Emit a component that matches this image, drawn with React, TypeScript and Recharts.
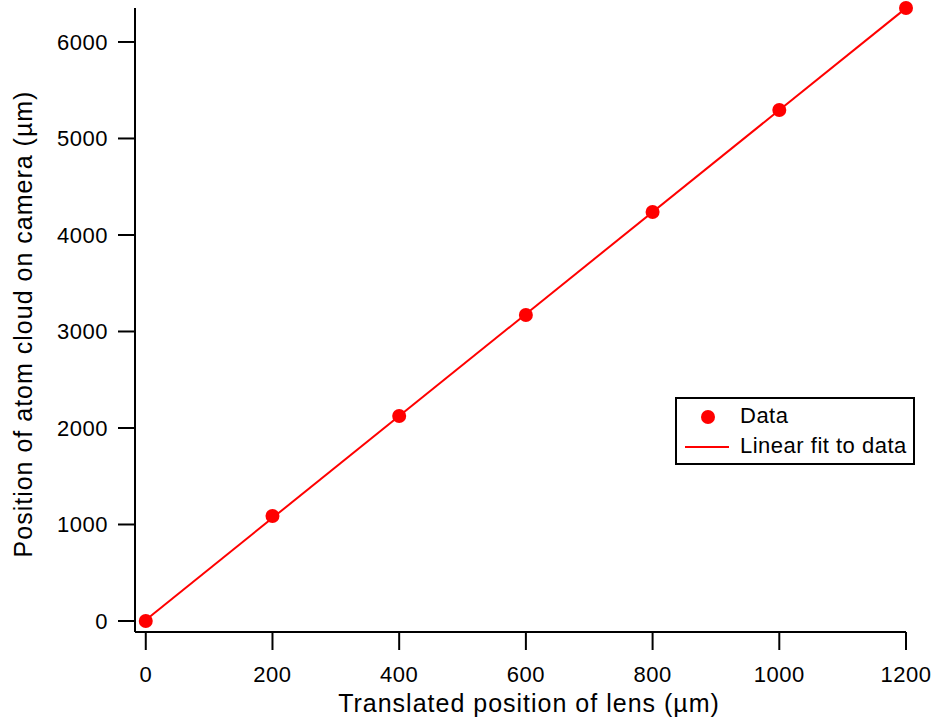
import React from 'react';
import { ComposedChart, Scatter, Line, XAxis, YAxis } from 'recharts';

// measured lens translation vs. cloud position on the camera
const lensPos = [0, 200, 400, 600, 800, 1000, 1200];
const cloudPos = [0, 1088, 2124, 3171, 4238, 5295, 6352];

// linear fit end points
const fitX = [0, 1200];
const fitY = [11, 6351];

const xTicks = [0, 200, 400, 600, 800, 1000, 1200];
const yTicks = [0, 1000, 2000, 3000, 4000, 5000, 6000];

const points = lensPos.map((x, i) => ({ x, y: cloudPos[i] }));
const fit = fitX.map((x, i) => ({ x, y: fitY[i] }));

const RED = '#ff0000';
const FONT = '"Liberation Sans", Arial, sans-serif';

const Dot = (props: any) => <circle cx={props.cx} cy={props.cy} r={7} fill={RED} />;

const XTitle = () => (
  <text x={529} y={712} textAnchor="middle" fontSize={25} letterSpacing={1} fill="#000">
    Translated position of lens (µm)
  </text>
);

const YTitle = () => (
  <text
    x={0}
    y={0}
    transform="translate(32, 324) rotate(-90)"
    textAnchor="middle"
    fontSize={25}
    letterSpacing={1}
    fill="#000"
  >
    Position of atom cloud on camera (µm)
  </text>
);

const LegendBox = () => (
  <div
    style={{
      position: 'absolute',
      left: 675,
      top: 397,
      width: 236,
      height: 64,
      border: '2px solid #000',
      background: '#fff',
      fontSize: 22,
      letterSpacing: 0.5,
      color: '#000',
    }}
  >
    <svg width={60} height={64} style={{ position: 'absolute', left: 0, top: 0 }}>
      <circle cx={31} cy={18} r={7} fill={RED} />
      <line x1={8} x2={52} y1={48} y2={48} stroke={RED} strokeWidth={2} />
    </svg>
    <div style={{ position: 'absolute', left: 63, top: 4 }}>Data</div>
    <div style={{ position: 'absolute', left: 63, top: 34 }}>Linear fit to data</div>
  </div>
);

export default function App() {
  return (
    <div style={{ position: 'absolute', left: 0, top: 0, width: 937, height: 720, fontFamily: FONT, background: '#fff' }}>
      <ComposedChart width={937} height={720} margin={{ top: 8, right: 31, bottom: 0, left: 0 }}>
        <XAxis
          type="number"
          dataKey="x"
          domain={[-17, 1200]}
          ticks={xTicks}
          height={88}
          axisLine={{ stroke: '#000', strokeWidth: 2 }}
          tickLine={{ stroke: '#000', strokeWidth: 2 }}
          tickSize={18}
          tickMargin={16}
          tick={{ fill: '#000', fontSize: 22, letterSpacing: 0.5 }}
          label={<XTitle />}
        />
        <YAxis
          type="number"
          dataKey="y"
          domain={[-114, 6352]}
          ticks={yTicks}
          width={135}
          axisLine={{ stroke: '#000', strokeWidth: 2 }}
          tickLine={{ stroke: '#000', strokeWidth: 2 }}
          tickSize={17}
          tickMargin={10}
          tick={{ fill: '#000', fontSize: 22, letterSpacing: 0.5 }}
          label={<YTitle />}
        />
        <Line
          data={fit}
          dataKey="y"
          stroke={RED}
          strokeWidth={2}
          dot={false}
          isAnimationActive={false}
          name="Linear fit to data"
        />
        <Scatter
          data={points}
          dataKey="y"
          fill={RED}
          shape={Dot}
          isAnimationActive={false}
          name="Data"
        />
      </ComposedChart>
      <LegendBox />
    </div>
  );
}
